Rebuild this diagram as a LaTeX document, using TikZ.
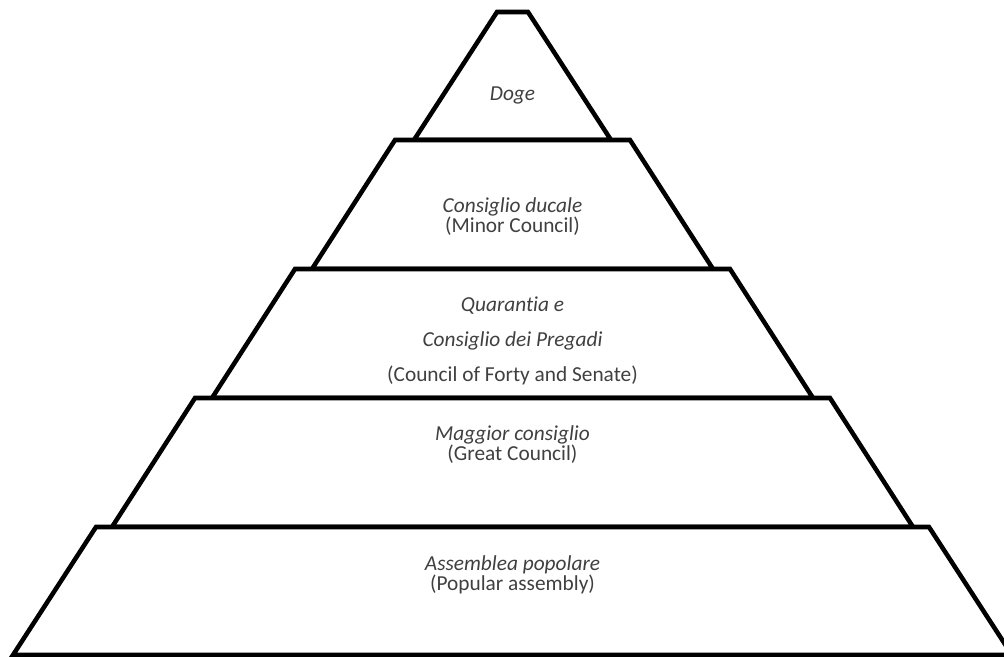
\documentclass[tikz,border=0pt]{standalone}
\usepackage{fontspec}
\setmainfont{Carlito}[Ligatures={NoCommon}]
\definecolor{txt}{HTML}{404040}
\begin{document}
\begin{tikzpicture}[x=0.75pt,y=-0.75pt,
  layerbox/.style={draw=black,line width=3.4pt,line join=miter,fill=white},
  lbl/.style={text=txt,font=\fontsize{16}{16}\selectfont,inner sep=0pt,anchor=mid}]
\useasboundingbox (0,0) rectangle (1004,657);
% layers (centre x = 512.5)
\draw[layerbox] (497,12) -- (528,12) -- (611,140) -- (414,140) -- cycle;
\draw[layerbox] (395,140) -- (630,140) -- (713,269) -- (312,269) -- cycle;
\draw[layerbox] (295,269) -- (730,269) -- (813,398) -- (212,398) -- cycle;
\draw[layerbox] (195,398) -- (830,398) -- (913,527) -- (112,527) -- cycle;
\draw[layerbox] (96,527) -- (929,527) -- (1012,655) -- (13,655) -- cycle;
% labels
\node[lbl] (doge) at (512.5,97) {\itshape Doge};
\node[lbl] (ducale) at (512.5,209) {\itshape Consiglio ducale};
\node[lbl] (minor) at (512.5,229) {(Minor Council)};
\node[lbl] (quarantia) at (512.5,308) {\itshape Quarantia e};
\node[lbl] (pregadi) at (512.5,343) {\itshape Consiglio dei Pregadi};
\node[lbl] (forty) at (512.5,378) {(Council of Forty and Senate)};
\node[lbl] (maggior) at (512.5,437) {\itshape Maggior consiglio};
\node[lbl] (great) at (512.5,457) {(Great Council)};
\node[lbl] (assemblea) at (512.5,567) {\itshape Assemblea popolare};
\node[lbl] (popular) at (512.5,587) {(Popular assembly)};
\end{tikzpicture}
\end{document}
